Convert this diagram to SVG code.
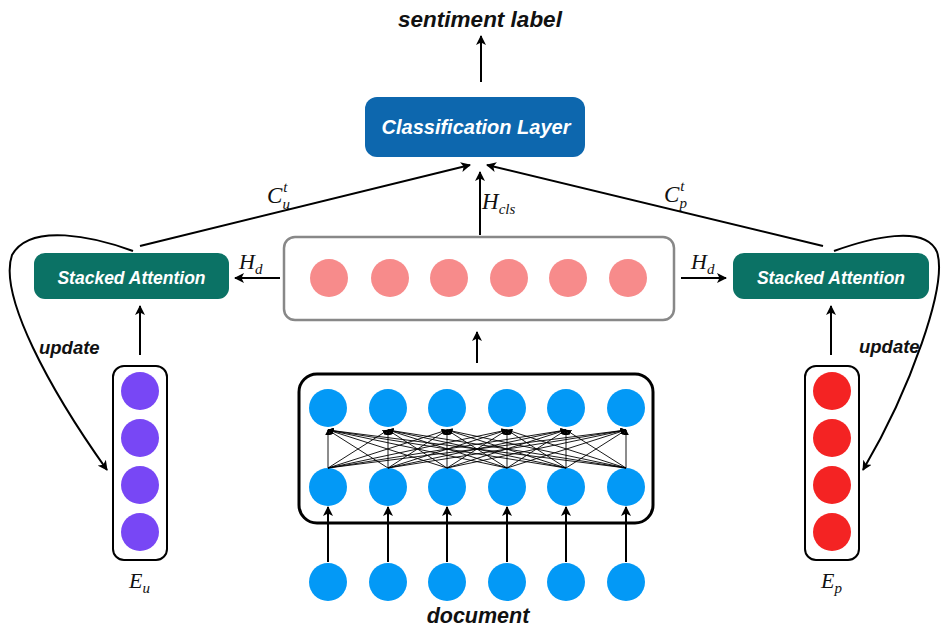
<svg xmlns="http://www.w3.org/2000/svg" width="941" height="630" viewBox="0 0 941 630">
<defs>
<marker id="ah" viewBox="0 0 10 10" refX="9" refY="5" markerWidth="10" markerHeight="10" markerUnits="userSpaceOnUse" orient="auto">
<path d="M0,0 L10,5 L0,10 L2.5,5 z" fill="#000"/>
</marker>
<marker id="sh" viewBox="0 0 10 10" refX="9" refY="5" markerWidth="6" markerHeight="6" markerUnits="userSpaceOnUse" orient="auto">
<path d="M0,0 L10,5 L0,10 z" fill="#000"/>
</marker>
<style>
.lbl{font-family:"Liberation Sans",Arial,sans-serif;font-weight:bold;font-style:italic;fill:#111}
.wl{font-family:"Liberation Sans",Arial,sans-serif;font-weight:bold;font-style:italic;fill:#fff;text-anchor:middle}
.math{font-family:"Liberation Serif","Times New Roman",serif;font-style:italic;fill:#111}
.arr{stroke:#000;stroke-width:2;fill:none;marker-end:url(#ah)}
.thin{stroke:#000;stroke-width:0.9;fill:none;marker-end:url(#sh)}
.blue{fill:#0399f6}
.pink{fill:#f78b8b}
.purple{fill:#7847f5}
.red{fill:#f42323}
</style>
</defs>

<g id="sentiment-label">
<text class="lbl" x="480" y="27" font-size="22.5" text-anchor="middle">sentiment label</text>
</g>

<g id="classification-layer">
<rect x="365" y="97" width="220" height="60" rx="12" fill="#0d67ae"/>
<text class="wl" x="476" y="134" font-size="20">Classification Layer</text>
</g>

<g id="stacked-attention-u">
<rect x="34" y="253" width="195" height="46" rx="11" fill="#0b7265"/>
<text class="wl" x="131.5" y="284" font-size="17.5">Stacked Attention</text>
</g>

<g id="stacked-attention-p">
<rect x="733" y="253" width="196" height="46" rx="11" fill="#0b7265"/>
<text class="wl" x="831" y="284" font-size="17.5">Stacked Attention</text>
</g>

<g id="hidden-states">
<rect x="284" y="237" width="390" height="83" rx="11" fill="#fff" stroke="#888" stroke-width="2.5"/>
<circle class="pink" cx="329" cy="278" r="19"/>
<circle class="pink" cx="390" cy="278" r="19"/>
<circle class="pink" cx="449" cy="278" r="19"/>
<circle class="pink" cx="509" cy="278" r="19"/>
<circle class="pink" cx="568" cy="278" r="19"/>
<circle class="pink" cx="628" cy="278" r="19"/>
</g>

<g id="encoder">
<rect x="299" y="374" width="354" height="149" rx="18" fill="#fff" stroke="#000" stroke-width="3"/>
<g class="blue">
<circle cx="328" cy="408" r="19"/><circle cx="388" cy="408" r="19"/><circle cx="447" cy="408" r="19"/>
<circle cx="507" cy="408" r="19"/><circle cx="566" cy="408" r="19"/><circle cx="626" cy="408" r="19"/>
<circle cx="328" cy="487" r="19"/><circle cx="388" cy="487" r="19"/><circle cx="447" cy="487" r="19"/>
<circle cx="507" cy="487" r="19"/><circle cx="566" cy="487" r="19"/><circle cx="626" cy="487" r="19"/>
</g>
</g>

<g id="document">
<g class="blue">
<circle cx="328" cy="582" r="19"/><circle cx="388" cy="582" r="19"/><circle cx="447" cy="582" r="19"/>
<circle cx="507" cy="582" r="19"/><circle cx="566" cy="582" r="19"/><circle cx="626" cy="582" r="19"/>
</g>
<text class="lbl" x="478" y="623" font-size="21.5" text-anchor="middle">document</text>
</g>

<g id="E-u">
<rect x="113" y="366" width="54" height="194" rx="11" fill="#fff" stroke="#000" stroke-width="2"/>
<circle class="purple" cx="140" cy="391" r="19"/>
<circle class="purple" cx="140" cy="438" r="19"/>
<circle class="purple" cx="140" cy="485" r="19"/>
<circle class="purple" cx="140" cy="532" r="19"/>
<text class="math" x="129" y="588" font-size="22">E<tspan font-size="15" dy="5">u</tspan></text>
</g>

<g id="E-p">
<rect x="805" y="366" width="54" height="194" rx="11" fill="#fff" stroke="#000" stroke-width="2"/>
<circle class="red" cx="832" cy="391" r="19"/>
<circle class="red" cx="832" cy="438" r="19"/>
<circle class="red" cx="832" cy="485" r="19"/>
<circle class="red" cx="832" cy="532" r="19"/>
<text class="math" x="821" y="588" font-size="22">E<tspan font-size="15" dy="5">p</tspan></text>
</g>

<g id="connectors">
<line class="arr" x1="481" y1="82" x2="481" y2="36"/>
<line class="arr" x1="480" y1="235" x2="480" y2="172"/>
<line class="arr" x1="140" y1="246" x2="470" y2="165"/>
<line class="arr" x1="823" y1="246" x2="487" y2="165"/>
<line class="arr" x1="280" y1="278" x2="235" y2="278"/>
<line class="arr" x1="681" y1="278" x2="726" y2="278"/>
<line class="arr" x1="140" y1="355" x2="140" y2="306"/>
<line class="arr" x1="831" y1="355" x2="831" y2="306"/>
<line class="arr" x1="477" y1="363" x2="477" y2="332"/>
<path class="arr" d="M133,251 C95,237 30,222 12,255 C-2,295 50,390 107,470"/>
<path class="arr" d="M834,251 C870,238 925,224 937,252 C948,285 910,390 863,470"/>
<line class="arr" x1="328" y1="562" x2="328" y2="507"/>
<line class="arr" x1="388" y1="562" x2="388" y2="507"/>
<line class="arr" x1="447" y1="562" x2="447" y2="507"/>
<line class="arr" x1="507" y1="562" x2="507" y2="507"/>
<line class="arr" x1="566" y1="562" x2="566" y2="507"/>
<line class="arr" x1="626" y1="562" x2="626" y2="507"/>
<g id="attn-links">
<path class="thin" d="M328,468 L328,430"/><path class="thin" d="M328,468 L388,430"/><path class="thin" d="M328,468 L447,430"/><path class="thin" d="M328,468 L507,430"/><path class="thin" d="M328,468 L566,430"/><path class="thin" d="M328,468 L626,430"/>
<path class="thin" d="M388,468 L328,430"/><path class="thin" d="M388,468 L388,430"/><path class="thin" d="M388,468 L447,430"/><path class="thin" d="M388,468 L507,430"/><path class="thin" d="M388,468 L566,430"/><path class="thin" d="M388,468 L626,430"/>
<path class="thin" d="M447,468 L328,430"/><path class="thin" d="M447,468 L388,430"/><path class="thin" d="M447,468 L447,430"/><path class="thin" d="M447,468 L507,430"/><path class="thin" d="M447,468 L566,430"/><path class="thin" d="M447,468 L626,430"/>
<path class="thin" d="M507,468 L328,430"/><path class="thin" d="M507,468 L388,430"/><path class="thin" d="M507,468 L447,430"/><path class="thin" d="M507,468 L507,430"/><path class="thin" d="M507,468 L566,430"/><path class="thin" d="M507,468 L626,430"/>
<path class="thin" d="M566,468 L328,430"/><path class="thin" d="M566,468 L388,430"/><path class="thin" d="M566,468 L447,430"/><path class="thin" d="M566,468 L507,430"/><path class="thin" d="M566,468 L566,430"/><path class="thin" d="M566,468 L626,430"/>
<path class="thin" d="M626,468 L328,430"/><path class="thin" d="M626,468 L388,430"/><path class="thin" d="M626,468 L447,430"/><path class="thin" d="M626,468 L507,430"/><path class="thin" d="M626,468 L566,430"/><path class="thin" d="M626,468 L626,430"/>
</g>
<text class="math" x="267" y="203" font-size="23">C<tspan font-size="15" dy="-11" dx="1">t</tspan><tspan font-size="15" dx="-5" dy="17">u</tspan></text>
<text class="math" x="664" y="202" font-size="23">C<tspan font-size="15" dy="-11" dx="1">t</tspan><tspan font-size="15" dx="-5" dy="17">p</tspan></text>
<text class="math" x="482" y="209" font-size="23">H<tspan font-size="15" dy="5">cls</tspan></text>
<text class="math" x="239" y="269" font-size="22">H<tspan font-size="15" dy="5">d</tspan></text>
<text class="math" x="691" y="269" font-size="22">H<tspan font-size="15" dy="5">d</tspan></text>
<text class="lbl" x="39" y="354" font-size="18.5">update</text>
<text class="lbl" x="859" y="353" font-size="18.5">update</text>
</g>
</svg>
